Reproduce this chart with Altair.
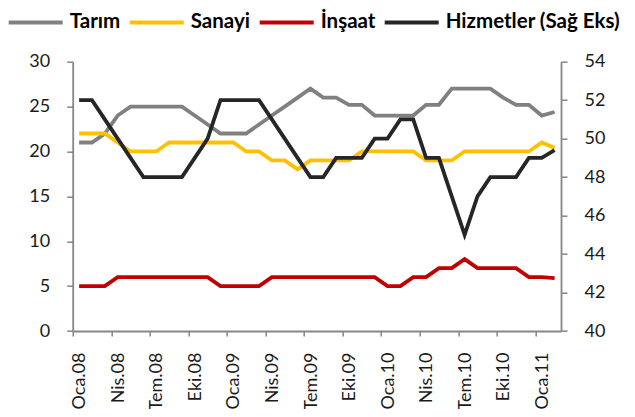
import json
import altair as alt
import pandas as pd

tick_labels = ["Oca.08", "Nis.08", "Tem.08", "Eki.08", "Oca.09", "Nis.09", "Tem.09",
               "Eki.09", "Oca.10", "Nis.10", "Tem.10", "Eki.10", "Oca.11"]

tarim = [21, 21, 22, 24, 25, 25, 25, 25, 25, 24, 23, 22, 22, 22, 23, 24, 25, 26, 27, 26,
         26, 25.2, 25.2, 24, 24, 24, 24, 25.2, 25.2, 27, 27, 27, 27, 26, 25.2, 25.2, 24, 24.4]
sanayi = [22, 22, 22, 21, 20, 20, 20, 21, 21, 21, 21, 21, 21, 20, 20, 19, 19, 18, 19, 19,
          19, 19, 20, 20, 20, 20, 20, 19, 19, 19, 20, 20, 20, 20, 20, 20, 21, 20.4]
insaat = [5, 5, 5, 6, 6, 6, 6, 6, 6, 6, 6, 5, 5, 5, 5, 6, 6, 6, 6, 6,
          6, 6, 6, 6, 5, 5, 6, 6, 7, 7, 8, 7, 7, 7, 7, 6, 6, 5.9]
hizmetler = [52, 52, 51, 50, 49, 48, 48, 48, 48, 49, 50, 52, 52, 52, 52, 51, 50, 49, 48, 48,
             49, 49, 49, 50, 50, 51, 51, 49, 49, 47, 45, 47, 48, 48, 48, 49, 49, 49.4]

series_names = ["Tarım", "Sanayi", "İnşaat", "Hizmetler (Sağ Eks)"]
colors = ["#808080", "#FFC000", "#C00000", "#262626"]

n = len(tarim)
rows = []
for name, vals in zip(series_names, [tarim, sanayi, insaat, hizmetler]):
    for i, v in enumerate(vals):
        rows.append({"i": i, "seri": name, "deger": v})
df = pd.DataFrame(rows)

AX = "#868686"
FONT = "Lato"

x_enc = alt.X(
    "i:Q",
    scale=alt.Scale(domain=[-0.5, n - 0.5], nice=False, zero=False),
    axis=alt.Axis(
        values=[-0.5 + 3 * k for k in range(len(tick_labels))],
        labelExpr=json.dumps(tick_labels, ensure_ascii=False) + "[round((datum.value + 0.5) / 3)]",
        labelAngle=270, labelOffset=7, labelPadding=16, tickSize=5,
        title=None, grid=False, labelOverlap=False,
    ),
)

y_left = alt.Y(
    "deger:Q",
    scale=alt.Scale(domain=[0, 30], nice=False, zero=False),
    axis=alt.Axis(values=list(range(0, 31, 5)), tickSize=6, labelPadding=17,
                  title=None, grid=False, orient="left"),
)
y_right = alt.Y(
    "deger:Q",
    scale=alt.Scale(domain=[40, 54], nice=False, zero=False),
    axis=alt.Axis(values=list(range(40, 55, 2)), tickSize=6, labelPadding=17,
                  title=None, grid=False, orient="right"),
)

color_enc = alt.Color(
    "seri:N",
    scale=alt.Scale(domain=series_names, range=colors),
    legend=alt.Legend(
        orient="none", legendX=-66, legendY=-68.5, offset=0, direction="horizontal", columns=4,
        title=None, symbolType="stroke", symbolSize=2916, symbolStrokeWidth=4,
        labelFont=FONT, labelFontWeight="bold", labelFontSize=20.5, labelColor="#000000",
        labelOffset=5, columnPadding=1, labelLimit=400, padding=0,
    ),
)

base = alt.Chart(df)

left = alt.layer(*[
    base.transform_filter(alt.datum.seri == s)
        .mark_line(strokeWidth=3.8)
        .encode(x=x_enc, y=y_left, color=color_enc)
    for s in series_names[:3]
])
right = (base.transform_filter(alt.datum.seri == series_names[3])
         .mark_line(strokeWidth=3.8)
         .encode(x=x_enc, y=y_right, color=color_enc))

chart = (
    alt.layer(left, right)
    .resolve_scale(y="independent")
    .properties(
        width=488.3, height=269.3,
        autosize=alt.AutoSizeParams(type="none"),
        padding={"left": 64.7, "top": 53.7, "right": 66, "bottom": 78},
    )
    .configure_view(stroke=None)
    .configure_axis(
        domainColor=AX, tickColor=AX, domainWidth=1.8, tickWidth=1.5,
        labelColor="#1a1a1a", labelFont=FONT, labelFontSize=18,
    )
)

chart.save("out.html", embed_options={"renderer": "svg", "actions": False})
